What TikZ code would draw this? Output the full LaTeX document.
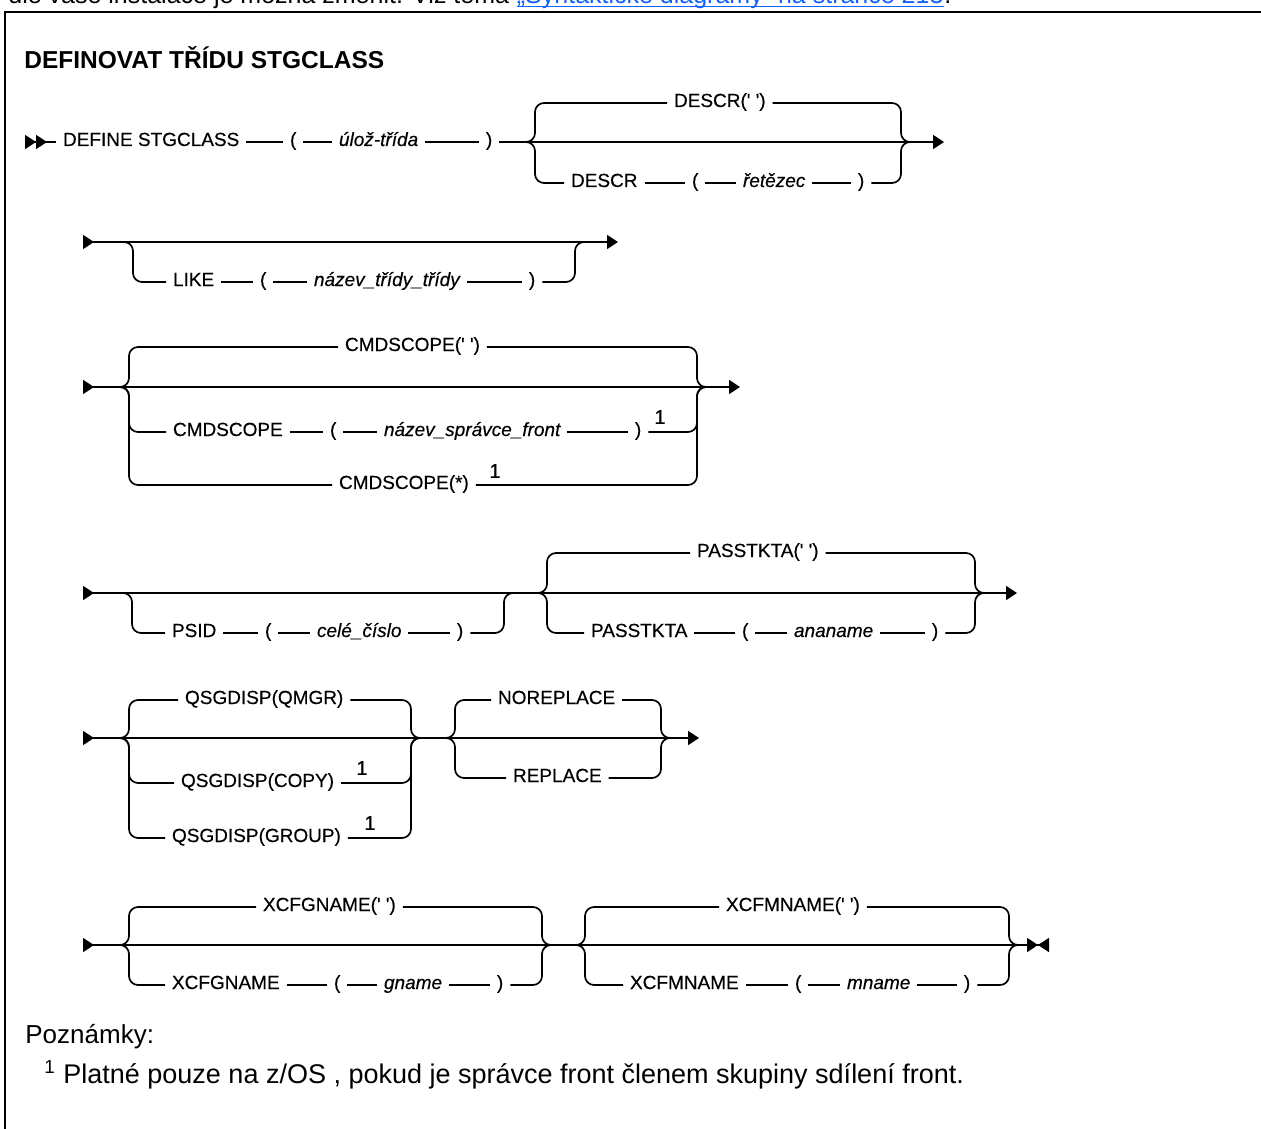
\documentclass[tikz,border=0pt]{standalone}
\usepackage{fontspec}
\setmainfont{Liberation Sans}
\newfontfamily\railfam{Liberation Sans}[FakeBold=0.35]
\usepackage{xcolor}
\usetikzlibrary{arrows.meta, positioning}
\definecolor{linkblue}{RGB}{15,98,254}
\newcommand{\synfont}{\railfam\fontsize{9.5}{11}\selectfont}
\newcommand{\qs}{\textquotesingle}

\begin{document}
\begin{tikzpicture}[x=0.5pt, y=-0.5pt,
  rail/.style={line width=0.85pt},
  brace/.style={rail, rounded corners=4.5pt},
  tok/.style={inner sep=0pt, outer sep=3.5pt, anchor=west, text height=6.8pt, text depth=2.8pt, font=\synfont},
  var/.style={tok, font=\synfont\itshape},
  notemark/.style={inner sep=0pt, font=\railfam\fontsize{10}{11}\selectfont},
  railtip/.tip={Triangle[length=5.5pt, width=7pt]},
  railin/.tip={Triangle[reversed, length=5.5pt, width=7pt]}]
  \useasboundingbox (0,0) rectangle (1261,1128);
  \begin{scope}
    \clip (0,0) rectangle (1261,11);
    \node[anchor=base west, inner sep=0pt, font=\fontsize{12.5}{15}\selectfont] (intro) at (8,4) {dle vaše instalace je možná změnit. Viz téma};
    \node[base right=3.5pt of intro, inner sep=0pt, font=\fontsize{12.5}{15}\selectfont, text=linkblue] (link) {„Syntaktické diagramy“ na stránce 213};
    \node[base right=0pt of link, inner sep=0pt, font=\fontsize{12.5}{15}\selectfont] (dot) {.};
    \draw[linkblue, line width=0.5pt] ([yshift=-1.2pt]link.base west) -- ([yshift=-1.2pt]link.base east);
  \end{scope}
  \draw[line width=1pt] (5,1130) -- (5,12) -- (1261,12);
  \node[anchor=west, inner sep=0pt, font=\fontsize{12.25}{14}\selectfont\bfseries] (title) at (24,58) {DEFINOVAT TŘÍDU STGCLASS};

  % DEFINE STGCLASS
  \coordinate (s1) at (25,142);
  \coordinate (b1l) at (535,142);
  \coordinate (b1r) at (901,142);
  \coordinate (e1) at (944,142);
  \node[tok] (define) at (56,142) {DEFINE STGCLASS};
  \node[tok] (lpa) at (283,142) {(};
  \node[var] (cls) at (332,142) {úlož-třída};
  \node[tok] (rpa) at (479,142) {)};
  \node[tok] (descrd) at (667,103) {DESCR(\qs{} \qs)};
  \node[tok] (descr) at (564,183) {DESCR};
  \node[tok] (lpb) at (685,183) {(};
  \node[var] (txt) at (736,183) {řetězec};
  \node[tok] (rpb) at (851,183) {)};
  \draw[rail, {railin[]railin[]}-] (s1) -- (define);
  \foreach \a/\b in {define/lpa, lpa/cls, cls/rpa, descr/lpb, lpb/txt, txt/rpb}
    \draw[rail] (\a) -- (\b);
  \draw[rail, -railtip] (rpa) -- (e1);
  \draw[brace] ([xshift=-5pt]b1l) -- (b1l) |- (descrd);
  \draw[brace] (descrd) -| (b1r) -- ([xshift=5pt]b1r);
  \draw[brace] ([xshift=-5pt]b1l) -- (b1l) |- (descr);
  \draw[brace] (rpb) -| (b1r) -- ([xshift=5pt]b1r);

  % LIKE
  \coordinate (s2) at (83,242);
  \coordinate (b2l) at (133,242);
  \coordinate (b2r) at (575,242);
  \coordinate (e2) at (618,242);
  \node[tok] (like) at (166,282) {LIKE};
  \node[tok] (lpc) at (253,282) {(};
  \node[var] (cname) at (307,282) {název\_třídy\_třídy};
  \node[tok] (rpc) at (522,282) {)};
  \draw[rail, railin-railtip] (s2) -- (e2);
  \foreach \a/\b in {like/lpc, lpc/cname, cname/rpc}
    \draw[rail] (\a) -- (\b);
  \draw[brace] ([xshift=-5pt]b2l) -- (b2l) |- (like);
  \draw[brace] (rpc) -| (b2r) -- ([xshift=5pt]b2r);

  % CMDSCOPE
  \coordinate (s3) at (83,387);
  \coordinate (b3l) at (129,387);
  \coordinate (b3r) at (697,387);
  \coordinate (e3) at (740,387);
  \node[tok] (cmdd) at (338,347) {CMDSCOPE(\qs{} \qs)};
  \node[tok] (cmd) at (166,432) {CMDSCOPE};
  \node[tok] (lpd) at (323,432) {(};
  \node[var] (qmname) at (377,432) {název\_správce\_front};
  \node[tok] (rpd) at (628,432) {)};
  \node[notemark] (n1a) at (660,417) {1};
  \node[tok] (cmds) at (332,485) {CMDSCOPE(*)};
  \node[notemark] (n1b) at (495,471) {1};
  \draw[rail, railin-railtip] (s3) -- (e3);
  \foreach \a/\b in {cmd/lpd, lpd/qmname, qmname/rpd}
    \draw[rail] (\a) -- (\b);
  \draw[brace] ([xshift=-5pt]b3l) -- (b3l) |- (cmdd);
  \draw[brace] (cmdd) -| (b3r) -- ([xshift=5pt]b3r);
  \draw[brace] ([xshift=-5pt]b3l) -- (b3l) |- (cmd);
  \draw[brace] (rpd) -| (b3r) -- ([xshift=5pt]b3r);
  \draw[brace] ([xshift=-5pt]b3l) -- (b3l) |- (cmds);
  \draw[brace] (cmds) -| (b3r) -- ([xshift=5pt]b3r);

  % PSID, PASSTKTA
  \coordinate (s4) at (83,593);
  \coordinate (b4l) at (132,593);
  \coordinate (b4r) at (504,593);
  \coordinate (b5l) at (547,593);
  \coordinate (b5r) at (975,593);
  \coordinate (e4) at (1017,593);
  \node[tok] (psid) at (165,633) {PSID};
  \node[tok] (lpe) at (258,633) {(};
  \node[var] (psn) at (310,633) {celé\_číslo};
  \node[tok] (rpe) at (450,633) {)};
  \node[tok] (passd) at (690,553) {PASSTKTA(\qs{} \qs)};
  \node[tok] (pass) at (584,633) {PASSTKTA};
  \node[tok] (lpf) at (735,633) {(};
  \node[var] (aname) at (787,633) {ananame};
  \node[tok] (rpf) at (925,633) {)};
  \draw[rail, railin-railtip] (s4) -- (e4);
  \foreach \a/\b in {psid/lpe, lpe/psn, psn/rpe, pass/lpf, lpf/aname, aname/rpf}
    \draw[rail] (\a) -- (\b);
  \draw[brace] ([xshift=-5pt]b4l) -- (b4l) |- (psid);
  \draw[brace] (rpe) -| (b4r) -- ([xshift=5pt]b4r);
  \draw[brace] ([xshift=-5pt]b5l) -- (b5l) |- (passd);
  \draw[brace] (passd) -| (b5r) -- ([xshift=5pt]b5r);
  \draw[brace] ([xshift=-5pt]b5l) -- (b5l) |- (pass);
  \draw[brace] (rpf) -| (b5r) -- ([xshift=5pt]b5r);

  % QSGDISP, REPLACE
  \coordinate (s5) at (83,738);
  \coordinate (b6l) at (129,738);
  \coordinate (b6r) at (411,738);
  \coordinate (b7l) at (455,738);
  \coordinate (b7r) at (661,738);
  \coordinate (e5) at (699,738);
  \node[tok] (qmgr) at (178,700) {QSGDISP(QMGR)};
  \node[tok] (copy) at (174,783) {QSGDISP(COPY)};
  \node[notemark] (n1c) at (362,768) {1};
  \node[tok] (group) at (165,838) {QSGDISP(GROUP)};
  \node[notemark] (n1d) at (370,823) {1};
  \node[tok] (norep) at (491,700) {NOREPLACE};
  \node[tok] (rep) at (506,778) {REPLACE};
  \draw[rail, railin-railtip] (s5) -- (e5);
  \foreach \n in {qmgr, copy, group} {
    \draw[brace] ([xshift=-5pt]b6l) -- (b6l) |- (\n);
    \draw[brace] (\n) -| (b6r) -- ([xshift=5pt]b6r);
  }
  \foreach \n in {norep, rep} {
    \draw[brace] ([xshift=-5pt]b7l) -- (b7l) |- (\n);
    \draw[brace] (\n) -| (b7r) -- ([xshift=5pt]b7r);
  }

  % XCFGNAME, XCFMNAME
  \coordinate (s6) at (83,945);
  \coordinate (b8l) at (129,945);
  \coordinate (b8r) at (542,945);
  \coordinate (b9l) at (585,945);
  \coordinate (b9r) at (1009,945);
  \coordinate (e6) at (1049,945);
  \node[tok] (xgd) at (256,907) {XCFGNAME(\qs{} \qs)};
  \node[tok] (xg) at (165,985) {XCFGNAME};
  \node[tok] (lpg) at (327,985) {(};
  \node[var] (gname) at (377,985) {gname};
  \node[tok] (rpg) at (490,985) {)};
  \node[tok] (xmd) at (719,907) {XCFMNAME(\qs{} \qs)};
  \node[tok] (xm) at (623,985) {XCFMNAME};
  \node[tok] (lph) at (788,985) {(};
  \node[var] (mname) at (840,985) {mname};
  \node[tok] (rph) at (957,985) {)};
  \draw[rail, {railin[]}-{railtip[]railin[]}] (s6) -- (e6);
  \foreach \a/\b in {xg/lpg, lpg/gname, gname/rpg, xm/lph, lph/mname, mname/rph}
    \draw[rail] (\a) -- (\b);
  \draw[brace] ([xshift=-5pt]b8l) -- (b8l) |- (xgd);
  \draw[brace] (xgd) -| (b8r) -- ([xshift=5pt]b8r);
  \draw[brace] ([xshift=-5pt]b8l) -- (b8l) |- (xg);
  \draw[brace] (rpg) -| (b8r) -- ([xshift=5pt]b8r);
  \draw[brace] ([xshift=-5pt]b9l) -- (b9l) |- (xmd);
  \draw[brace] (xmd) -| (b9r) -- ([xshift=5pt]b9r);
  \draw[brace] ([xshift=-5pt]b9l) -- (b9l) |- (xm);
  \draw[brace] (rph) -| (b9r) -- ([xshift=5pt]b9r);

  \node[anchor=west, inner sep=0pt, font=\fontsize{13}{15}\selectfont] (notes) at (25,1037) {Poznámky:};
  \node[anchor=west, inner sep=0pt, font=\fontsize{13.5}{15}\selectfont] (note1) at (44,1075) {\textsuperscript{1} Platné pouze na z/OS , pokud je správce front členem skupiny sdílení front.};
\end{tikzpicture}
\end{document}
